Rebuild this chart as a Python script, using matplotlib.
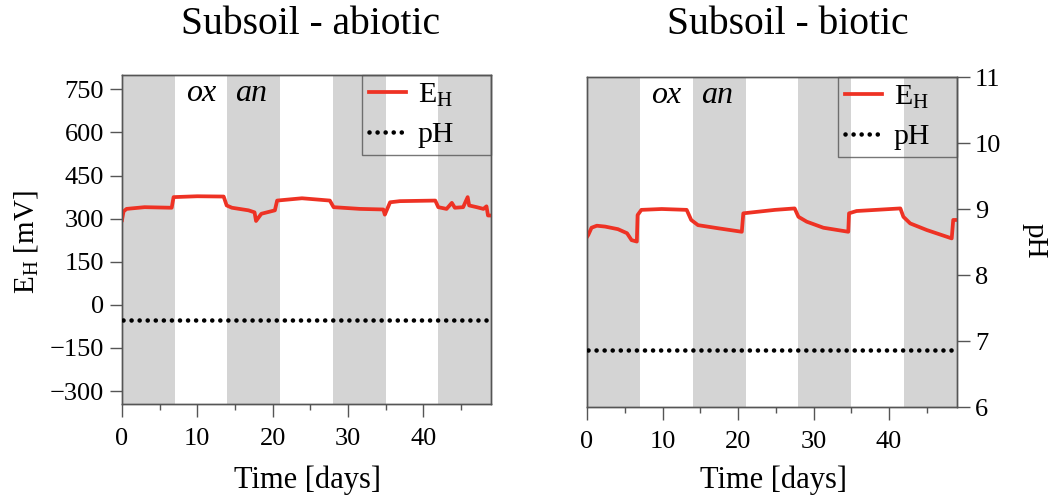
import matplotlib
matplotlib.use("Agg")
import matplotlib.pyplot as plt
from matplotlib.lines import Line2D

plt.rcParams['font.family'] = ['Liberation Serif', 'DejaVu Serif']
plt.rcParams['mathtext.fontset'] = 'custom'
plt.rcParams['mathtext.rm'] = 'Liberation Serif'
plt.rcParams['mathtext.it'] = 'Liberation Serif:italic'

# ---- data ----
days_abiotic = [0, 0.2, 0.6, 3.0, 6.6, 6.85, 10, 13.5, 13.9, 14.6, 16.8, 17.6, 17.8, 18.5,
                20.3, 20.6, 23.9, 27.6, 28.1, 31.6, 34.7, 34.9, 35.6, 36.9, 41.6, 42.0,
                43.1, 43.8, 44.2, 45.3, 45.9, 46.1, 47.1, 48.0, 48.4, 48.6, 49.0]
eh_abiotic = [295, 325, 334, 340, 338, 375, 378, 377, 346, 338, 329, 322, 292, 317,
              329, 363, 371, 363, 340, 334, 332, 314, 357, 361, 363, 340,
              334, 355, 338, 340, 375, 346, 340, 334, 343, 311, 311]
ph_abiotic = 7.27

days_biotic = [0, 0.17, 0.6, 1.3, 2.4, 4.1, 5.3, 5.9, 6.6, 6.7, 7.2, 9.9, 13.2, 13.8, 14.7,
               17.4, 20.5, 20.7, 24.9, 27.5, 28.0, 29.1, 31.3, 34.6, 34.7, 35.7, 41.5,
               41.9, 42.8, 45.0, 48.3, 48.5, 48.8]
eh_biotic = [245, 252, 277, 284, 281, 272, 258, 234, 229, 321, 339, 342, 339, 304, 286,
             275, 263, 327, 339, 344, 315, 298, 277, 263, 327, 335, 344,
             315, 292, 269, 240, 304, 304]
ph_biotic = 6.87

anoxic_periods = [(0, 7), (14, 21), (28, 35), (42, 49)]
phase_labels = ['ox', 'an']
phase_pos = [10.55, 17.2]
titles = ['Subsoil - abiotic', 'Subsoil - biotic']
eh_ticks = [-300, -150, 0, 150, 300, 450, 600, 750]
ph_ticks = [6, 7, 8, 9, 10, 11]

RED = '#ee3224'
GRAY = '#d4d4d4'
SPINE = '#555555'
DOTS = (0, (0.01, 1.75))

fig = plt.figure(figsize=(10.61, 5.0), dpi=100)
rects = [[122/1061, 1-404/500, 369/1061, 329/500],
         [587/1061, 1-407/500, 370/1061, 330/500]]
legend_x0 = [(362-122)/369, (838-587)/370]
title_x = [310.5/1061, 787.5/1061]
xlabel_x = [307/1061, 773/1061]

datasets = [(days_abiotic, eh_abiotic, ph_abiotic), (days_biotic, eh_biotic, ph_biotic)]

for i, (d, eh, ph) in enumerate(datasets):
    ax = fig.add_axes(rects[i])
    for a, b in anoxic_periods:
        ax.axvspan(a, b, color=GRAY, lw=0, zorder=0)
    ax.plot(d, eh, color=RED, lw=2.7, zorder=3, solid_joinstyle='round')
    ax.set_xlim(0, 49)
    ax.set_ylim(-345, 800)
    ax.set_xticks([0, 10, 20, 30, 40])
    ax.set_xticks([5, 15, 25, 35, 45], minor=True)
    ax.tick_params(axis='x', which='major', direction='out', length=9, width=1, color=SPINE,
                   labelsize=19, pad=8)
    ax.tick_params(axis='x', which='minor', direction='out', length=4.5, width=1, color=SPINE)
    for s in ax.spines.values():
        s.set_color(SPINE)
        s.set_linewidth(1.0)

    ax2 = ax.twinx()
    ax2.plot([0.1, 49], [ph, ph], color='black', lw=3.3,
             linestyle=DOTS, dash_capstyle='round', zorder=4)
    ax2.set_ylim(6, 11)
    ax2.set_xlim(0, 49)
    for s in ax2.spines.values():
        s.set_color(SPINE)
        s.set_linewidth(1.0)

    if i == 0:
        ax.set_yticks(eh_ticks)
        ax.set_yticklabels([str(t).replace('-', '\u2212') for t in eh_ticks])
        ax.tick_params(axis='y', direction='out', length=9, width=1, color=SPINE, labelsize=19, pad=4)
        ax2.set_yticks([])
        fig.text(26/1061, 1-242/500, r'E$_\mathrm{H}$ [mV]', rotation=90, ha='center',
                 va='center', fontsize=21)
    else:
        ax.set_yticks([])
        ax2.set_yticks(ph_ticks)
        ax2.tick_params(axis='y', direction='out', length=9, width=1, color=SPINE, labelsize=19, pad=4)
        fig.text(1035/1061, 1-241/500, 'pH', rotation=270, ha='center', va='center', fontsize=21)

    for lab, xp in zip(phase_labels, phase_pos):
        ax.text(xp, 0.945, lab, transform=ax.get_xaxis_transform(), ha='center', va='center',
                fontsize=23, style='italic', family='Liberation Serif', zorder=5)

    handles = [Line2D([], [], color=RED, lw=2.7),
               Line2D([], [], color='black', lw=3.3, linestyle=DOTS, dash_capstyle='round')]
    x0 = legend_x0[i]
    leg = ax2.legend(handles, [r'E$_\mathrm{H}$', 'pH'], loc='upper left',
                     bbox_to_anchor=(x0, 0, 1 - x0, 1), mode='expand', borderaxespad=0,
                     fontsize=21.5, frameon=True, fancybox=False, handlelength=1.25,
                     handletextpad=0.4, labelspacing=0.42, borderpad=0.22)
    leg.get_frame().set_facecolor('none')
    leg.get_frame().set_edgecolor(SPINE)
    leg.get_frame().set_linewidth(1.0)

    fig.text(title_x[i], 1-24/500, titles[i], ha='center', va='center', fontsize=28.5)
    fig.text(xlabel_x[i], 1-480/500, 'Time [days]', ha='center', va='center', fontsize=22)

fig.savefig('out.png', dpi=100)
